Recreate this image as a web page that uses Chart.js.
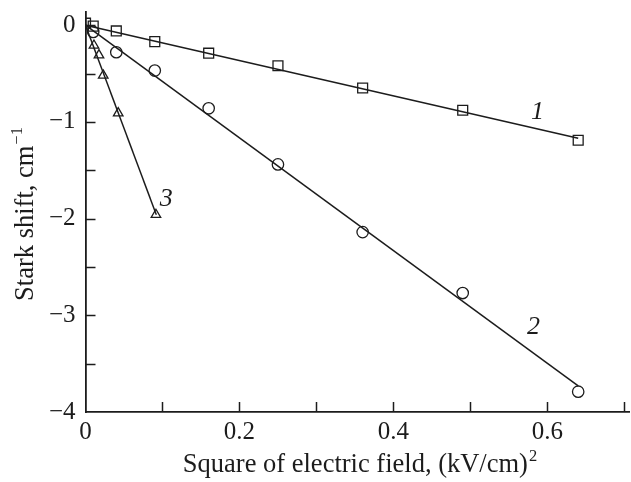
<!DOCTYPE html>
<html>
<head>
<meta charset="utf-8">
<script src="https://cdn.jsdelivr.net/npm/chart.js@4/dist/chart.umd.min.js"></script>
<style>
  html, body { margin: 0; padding: 0; background: #ffffff; }
  #wrap { width: 631px; height: 482px; position: relative; }
</style>
</head>
<body>
<div id="wrap"><canvas id="c" width="631" height="482"></canvas></div>
<script>
// ---- data ----
const squareX = [0, 0.01, 0.04, 0.09, 0.16, 0.25, 0.36, 0.49, 0.64];
const squareY = [0.02, -0.01, -0.06, -0.17, -0.29, -0.42, -0.65, -0.88, -1.19];
const circleX = [0.01, 0.04, 0.09, 0.16, 0.25, 0.36, 0.49, 0.64];
const circleY = [-0.07, -0.28, -0.47, -0.86, -1.44, -2.14, -2.77, -3.79];
const triangleX = [0.011, 0.0175, 0.023, 0.0425, 0.0915];
const triangleY = [-0.21, -0.31, -0.52, -0.91, -1.96];
const fit1X = [0, 0.64], fit1Y = [0, -1.17];
const fit2X = [0, 0.64], fit2Y = [0, -3.73];
const fit3X = [0, 0.092], fit3Y = [0, -1.96];
const curveLabels = ['1', '2', '3'];
const curveLabelX = [0.587, 0.582, 0.105];
const curveLabelY = [-0.90, -3.12, -1.80];
const xTickValues = [0, 0.1, 0.2, 0.3, 0.4, 0.5, 0.6, 0.7];
const xTickLabels = ['0', '', '0.2', '', '0.4', '', '0.6', ''];
const yTickValues = [-4, -3.5, -3, -2.5, -2, -1.5, -1, -0.5, 0];
const yTickLabels = ['\u22124', '', '\u22123', '', '\u22122', '', '\u22121', '', '0'];
const xTitle = 'Square of electric field, (kV/cm)';
const xTitleSup = '2';
const yTitle = 'Stark shift, cm';
const yTitleSup = '\u22121';

const INK = '#1c1c1c';
const SERIF = "'Liberation Serif', 'Times New Roman', serif";

const pts = (xs, ys) => xs.map((x, i) => ({x: x, y: ys[i]}));

const markerDs = (data, style, r) => ({
  data: data, showLine: false, pointStyle: style, pointRadius: r, pointHoverRadius: r,
  pointBorderColor: INK, pointBackgroundColor: 'rgba(0,0,0,0)', pointBorderWidth: 1.3,
  borderColor: INK
});
const lineDs = (data) => ({
  data: data, showLine: true, pointRadius: 0, pointHoverRadius: 0,
  borderColor: INK, borderWidth: 1.5, fill: false, tension: 0
});

const decor = {
  id: 'decor',
  afterDraw(chart) {
    const ctx = chart.ctx;
    const xs = chart.scales.x, ys = chart.scales.y;
    const area = chart.chartArea;
    ctx.save();
    // inward tick marks
    ctx.strokeStyle = INK;
    ctx.lineWidth = 1.5;
    ctx.beginPath();
    xTickValues.forEach(v => {
      if (v === 0) return;
      const p = Math.round(xs.getPixelForValue(v)) + 0.5;
      ctx.moveTo(p, area.bottom);
      ctx.lineTo(p, area.bottom - 10);
    });
    yTickValues.forEach(v => {
      if (v === -4) return;
      const p = Math.round(ys.getPixelForValue(v)) + 0.5;
      ctx.moveTo(area.left, p);
      ctx.lineTo(area.left + 10, p);
    });
    ctx.stroke();

    // curve labels
    ctx.fillStyle = INK;
    ctx.font = 'italic 26px ' + SERIF;
    ctx.textAlign = 'center';
    ctx.textBaseline = 'middle';
    curveLabels.forEach((t, i) => {
      ctx.fillText(t, xs.getPixelForValue(curveLabelX[i]), ys.getPixelForValue(curveLabelY[i]));
    });

    // axis titles with superscripts
    const mainFont = '26.5px ' + SERIF, supFont = '16.5px ' + SERIF;
    ctx.textAlign = 'left';
    ctx.textBaseline = 'alphabetic';
    // x title
    ctx.font = mainFont;
    const wx = ctx.measureText(xTitle).width;
    ctx.font = supFont;
    const wxs = ctx.measureText(xTitleSup).width;
    const cx = 360;
    let sx = cx - (wx + wxs + 1) / 2;
    ctx.font = mainFont;
    ctx.fillText(xTitle, sx, 472);
    ctx.font = supFont;
    ctx.fillText(xTitleSup, sx + wx + 1, 461);
    // y title
    ctx.translate(33, 214);
    ctx.rotate(-Math.PI / 2);
    ctx.font = mainFont;
    const wy = ctx.measureText(yTitle).width;
    ctx.font = supFont;
    const wys = ctx.measureText(yTitleSup).width;
    let sy = -(wy + wys + 1) / 2;
    ctx.font = mainFont;
    ctx.fillText(yTitle, sy, 0);
    ctx.font = supFont;
    ctx.fillText(yTitleSup, sy + wy + 1, -11);
    ctx.restore();
  }
};

new Chart(document.getElementById('c'), {
  type: 'scatter',
  data: {
    datasets: [
      markerDs(pts(squareX, squareY), 'rect', 7),
      markerDs(pts(circleX, circleY), 'circle', 5.7),
      markerDs(pts(triangleX, triangleY), 'triangle', 5.5),
      lineDs(pts(fit1X, fit1Y)),
      lineDs(pts(fit2X, fit2Y)),
      lineDs(pts(fit3X, fit3Y))
    ]
  },
  options: {
    responsive: false,
    animation: false,
    devicePixelRatio: 1,
    layout: { autoPadding: false, padding: { top: 12, right: 2, left: 0, bottom: 0 } },
    plugins: { legend: { display: false }, tooltip: { enabled: false } },
    scales: {
      x: {
        type: 'linear', min: 0, max: 0.706,
        afterFit(s) { s.height = 70; s.paddingLeft = 0; s.paddingRight = 0; },
        afterBuildTicks(s) { s.ticks = xTickValues.map(v => ({value: v})); },
        grid: { display: true, drawOnChartArea: false, drawTicks: false },
        border: { display: true, color: INK, width: 1.8 },
        ticks: {
          color: INK, padding: 5, maxRotation: 0, autoSkip: false,
          font: { family: SERIF, size: 25 },
          callback: (v, i) => xTickLabels[i]
        }
      },
      y: {
        type: 'linear', min: -4, max: 0.136,
        afterFit(s) { s.width = 85.5; s.paddingTop = 0; s.paddingBottom = 0; },
        afterBuildTicks(s) { s.ticks = yTickValues.map(v => ({value: v})); },
        grid: { display: true, drawOnChartArea: false, drawTicks: false },
        border: { display: true, color: INK, width: 1.8 },
        ticks: {
          color: INK, padding: 10, autoSkip: false,
          font: { family: SERIF, size: 25 },
          callback: (v, i) => yTickLabels[i]
        }
      }
    }
  },
  plugins: [decor]
});
</script>
</body>
</html>
